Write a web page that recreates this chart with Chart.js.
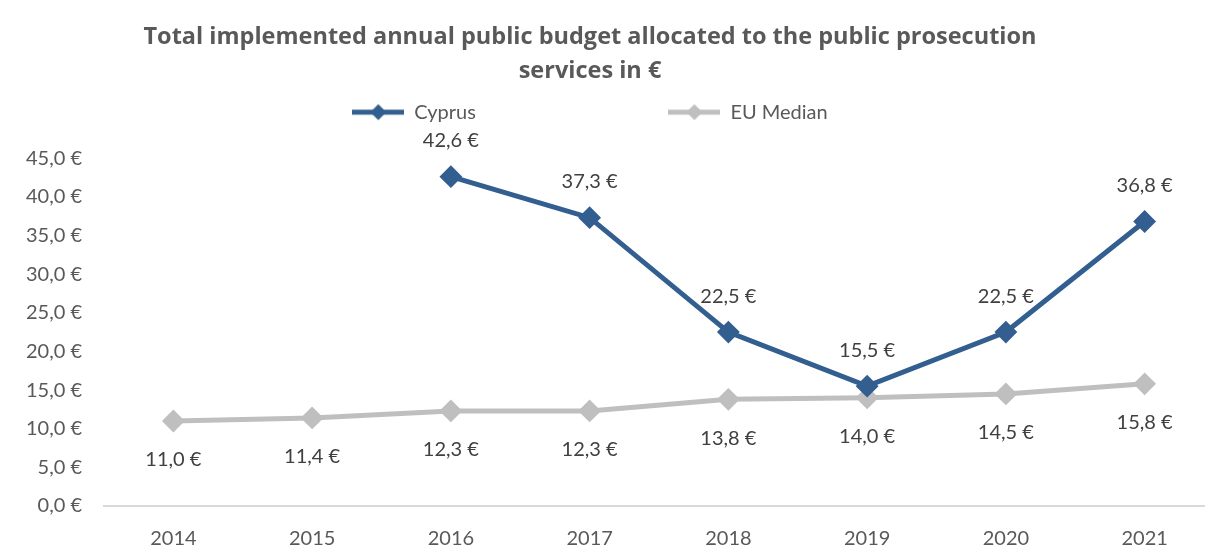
<!DOCTYPE html>
<html>
<head>
<meta charset="utf-8">
<script src="https://cdn.jsdelivr.net/npm/chart.js@4"></script>
<style>
body { margin: 0; background: #fff; overflow: hidden; }
#wrap { width: 1205px; height: 545px; overflow: hidden; }
</style>
</head>
<body>
<div id="wrap"><canvas id="budget" width="1226" height="545"></canvas></div>
<script>
// data
const years = ["2014", "2015", "2016", "2017", "2018", "2019", "2020", "2021"];
const cyprus = [null, null, 42.6, 37.3, 22.5, 15.5, 22.5, 36.8];
const euMedian = [11.0, 11.4, 12.3, 12.3, 13.8, 14.0, 14.5, 15.8];
const seriesNames = ["Cyprus", "EU Median"];
const yMin = 0;
const yMax = 45;
const yStep = 5;

const blue = "#335e90";
const grey = "#bfbfbf";
const textGrey = "#595959";

Chart.defaults.font.family = "Lato, 'Open Sans', sans-serif";

function euro(v) {
  return v.toFixed(1).replace(".", ",") + " €";
}

// little line + diamond icon for the legend
function legendIcon(color) {
  const c = document.createElement("canvas");
  c.width = 52;
  c.height = 22;
  const g = c.getContext("2d");
  g.strokeStyle = color;
  g.lineWidth = 5;
  g.beginPath();
  g.moveTo(0, 11);
  g.lineTo(52, 11);
  g.stroke();
  g.fillStyle = color;
  g.beginPath();
  g.moveTo(26, 3);
  g.lineTo(34, 11);
  g.lineTo(26, 19);
  g.lineTo(18, 11);
  g.closePath();
  g.fill();
  return c;
}

// value labels, above for cyprus and below for the eu median
const valueLabels = {
  id: "valueLabels",
  afterDatasetsDraw(chart) {
    const ctx = chart.ctx;
    ctx.save();
    ctx.font = "20px Lato, 'Open Sans', sans-serif";
    ctx.fillStyle = "#404040";
    ctx.textAlign = "center";
    ctx.textBaseline = "middle";
    chart.data.datasets.forEach((ds, i) => {
      const meta = chart.getDatasetMeta(i);
      meta.data.forEach((pt, j) => {
        const v = ds.data[j];
        if (v == null) return;
        const dy = i == 0 ? -36 : 39;
        ctx.fillText(euro(v), pt.x, pt.y + dy);
      });
    });
    ctx.restore();
  }
};

const legendGap = "\u2003".repeat(12) + "\u2009";

const ctx = document.getElementById("budget").getContext("2d");

const chart = new Chart(ctx, {
  type: "line",
  data: {
    labels: years,
    datasets: [
      {
        label: seriesNames[0],
        data: cyprus,
        borderColor: blue,
        backgroundColor: blue,
        borderWidth: 5,
        pointStyle: "rectRot",
        pointRadius: 10,
        pointHoverRadius: 10,
        pointBorderWidth: 2,
        tension: 0
      },
      {
        label: seriesNames[1],
        data: euMedian,
        borderColor: grey,
        backgroundColor: grey,
        borderWidth: 5,
        pointStyle: "rectRot",
        pointRadius: 10,
        pointHoverRadius: 10,
        pointBorderWidth: 2,
        tension: 0
      }
    ]
  },
  options: {
    responsive: false,
    animation: false,
    layout: { padding: { left: -46, right: 0, top: 0, bottom: 0 } },
    plugins: {
      title: {
        display: true,
        text: ["Total implemented annual public budget allocated to the public prosecution", "services in €"],
        color: textGrey,
        font: { family: "'Open Sans', Lato, sans-serif", size: 23.5, weight: "bold", lineHeight: 1.45 },
        padding: { top: 20, bottom: 4 }
      },
      legend: {
        position: "top",
        labels: {
          usePointStyle: true,
          pointStyleWidth: 52,
          padding: 10,
          color: textGrey,
          font: { size: 20 },
          generateLabels(chart) {
            return chart.data.datasets.map((ds, i) => ({
              text: i == 0 ? ds.label + legendGap : ds.label,
              pointStyle: legendIcon(ds.borderColor),
              fillStyle: ds.borderColor,
              strokeStyle: ds.borderColor,
              lineWidth: 0,
              fontColor: textGrey,
              hidden: false,
              datasetIndex: i
            }));
          }
        }
      },
      tooltip: { enabled: false }
    },
    scales: {
      x: {
        offset: true,
        grid: { display: false, drawTicks: false },
        border: { display: true, color: "#d9d9d9", width: 2 },
        ticks: { padding: 21, color: textGrey, font: { size: 20 } },
        afterFit(s) { s.height = 39; }
      },
      // empty axis on top, only to keep space under the legend
      spacer: {
        type: "category",
        position: "top",
        grid: { display: false, drawTicks: false },
        border: { display: false },
        ticks: { display: false },
        afterFit(s) { s.height = 26; }
      },
      y: {
        min: yMin,
        max: yMax,
        grid: { display: false, drawTicks: false },
        border: { display: false },
        ticks: {
          stepSize: yStep,
          padding: 22,
          color: textGrey,
          font: { size: 20 },
          callback: function (value) { return euro(value); }
        },
        afterFit(s) { s.width = 150; }
      }
    }
  },
  plugins: [valueLabels]
});
</script>
</body>
</html>
